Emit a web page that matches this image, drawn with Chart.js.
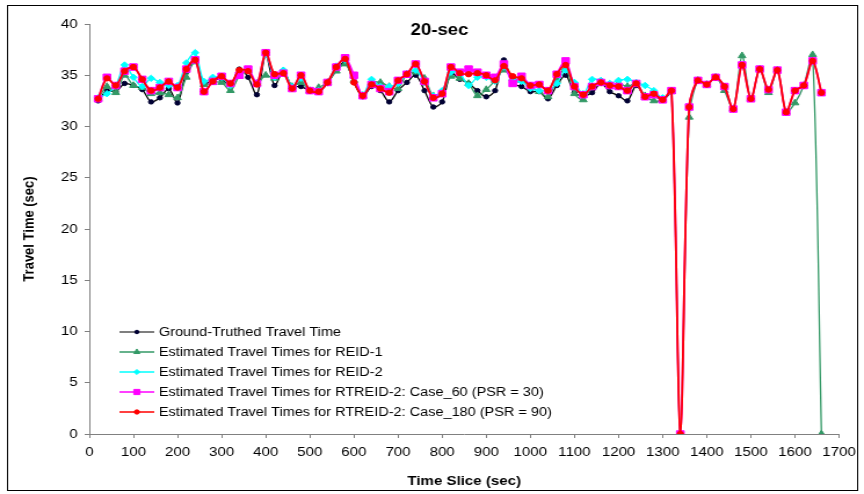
<!DOCTYPE html>
<html>
<head>
<meta charset="utf-8">
<script src="https://cdn.jsdelivr.net/npm/chart.js@4.4.0/dist/chart.umd.min.js"></script>
<style>
  html, body { margin: 0; padding: 0; background: #fff; }
  #wrap { width: 864px; height: 494px; overflow: hidden; position: relative; }
  /* the source picture is stretched sideways, so draw narrow and stretch */
  #chart { position: absolute; left: 0; top: 0; transform: scaleX(1.1597); transform-origin: 0 0; }
</style>
</head>
<body>
<div id="wrap"><canvas id="chart" width="745" height="494"></canvas></div>
<script>
'use strict';

const FONT = '"Liberation Sans", Arial, sans-serif';

const timeSlices = [
  20, 40, 60, 80, 100, 120, 140, 160, 180, 200,
  220, 240, 260, 280, 300, 320, 340, 360, 380, 400,
  420, 440, 460, 480, 500, 520, 540, 560, 580, 600,
  620, 640, 660, 680, 700, 720, 740, 760, 780, 800,
  820, 840, 860, 880, 900, 920, 940, 960, 980, 1000,
  1020, 1040, 1060, 1080, 1100, 1120, 1140, 1160, 1180, 1200,
  1220, 1240, 1260, 1280, 1300, 1320, 1340, 1360, 1380, 1400,
  1420, 1440, 1460, 1480, 1500, 1520, 1540, 1560, 1580, 1600,
  1620, 1640, 1660
];

// ground truth and REID-2 stop at 1320
const groundTruth = [
  32.5, 33.5, 33.4, 34.2, 34.0, 33.6, 32.4, 32.8, 33.7, 32.3,
  35.3, 36.4, 34.2, 34.5, 34.6, 34.0, 35.6, 34.8, 33.1, 37.0,
  34.0, 35.4, 33.9, 33.9, 33.5, 33.4, 34.2, 35.5, 36.3, 34.3,
  32.9, 33.9, 33.5, 32.4, 33.5, 34.3, 35.0, 33.5, 31.9, 32.4,
  35.2, 34.6, 34.2, 33.5, 32.9, 33.5, 36.5, 34.2, 33.9, 33.4,
  33.4, 32.7, 34.0, 35.0, 33.3, 33.0, 33.3, 34.2, 33.4, 33.0,
  32.5, 34.0, 32.9, 33.0, 32.6, 33.4
];

const reid1 = [
  32.7, 33.9, 33.3, 35.0, 34.0, 33.8, 33.2, 33.3, 33.1, 32.8,
  34.8, 36.3, 34.1, 34.3, 34.3, 33.5, 34.9, 35.4, 34.2, 35.0,
  34.7, 35.4, 33.9, 34.3, 33.5, 33.8, 34.3, 35.4, 36.1, 34.5,
  33.0, 34.3, 34.3, 33.9, 33.7, 35.1, 35.3, 34.7, 33.0, 33.2,
  34.9, 34.7, 34.2, 33.0, 33.6, 34.5, 35.5, 34.7, 34.5, 33.9,
  33.4, 32.9, 34.5, 35.7, 33.2, 32.6, 33.9, 34.2, 33.9, 34.2,
  33.9, 34.2, 33.0, 32.5, 32.6, 33.4, 0, 30.9, 34.5, 34.1,
  34.8, 33.5, 31.7, 36.9, 32.7, 35.6, 33.3, 35.5, 31.4, 32.3,
  34.0, 37.0, 0
];

const reid2 = [
  32.8, 33.2, 34.0, 36.0, 34.8, 33.9, 34.7, 34.3, 34.0, 34.0,
  36.2, 37.2, 34.4, 34.8, 34.8, 34.0, 35.2, 35.5, 34.2, 37.0,
  34.8, 35.5, 33.9, 34.7, 33.5, 33.5, 34.3, 35.9, 36.5, 34.8,
  33.1, 34.6, 33.9, 33.9, 34.2, 35.1, 35.5, 34.3, 33.0, 33.5,
  35.3, 35.2, 34.0, 34.8, 34.8, 34.4, 35.8, 34.5, 34.4, 33.7,
  33.5, 33.5, 34.2, 35.5, 34.3, 33.2, 34.6, 34.5, 34.2, 34.5,
  34.6, 34.3, 34.0, 33.5, 32.8, 33.4
];

const case60 = [
  32.7, 34.8, 34.0, 35.4, 35.8, 34.6, 33.5, 33.8, 34.4, 33.8,
  35.6, 36.5, 33.4, 34.4, 34.9, 34.2, 35.0, 35.6, 34.2, 37.2,
  35.0, 35.2, 33.7, 35.0, 33.5, 33.4, 34.3, 35.8, 36.7, 35.0,
  33.0, 34.1, 33.7, 33.4, 34.5, 35.1, 36.1, 34.4, 32.8, 33.2,
  35.8, 35.3, 35.6, 35.3, 35.0, 34.8, 36.1, 34.2, 34.9, 34.0,
  34.1, 33.5, 35.1, 36.4, 33.9, 33.1, 33.9, 34.3, 34.0, 33.9,
  33.5, 34.2, 32.9, 33.1, 32.6, 33.5, 0, 31.9, 34.5, 34.1,
  34.8, 33.9, 31.7, 36.0, 32.7, 35.6, 33.6, 35.5, 31.4, 33.5,
  34.0, 36.4, 33.3
];

const case180 = [
  32.7, 34.7, 34.0, 35.4, 35.8, 34.6, 33.5, 33.8, 34.4, 33.8,
  35.6, 36.5, 33.4, 34.4, 34.9, 34.2, 35.5, 35.4, 34.1, 37.2,
  35.1, 35.2, 33.7, 35.0, 33.5, 33.4, 34.3, 35.8, 36.6, 34.3,
  33.0, 34.1, 33.7, 33.3, 34.5, 35.1, 36.1, 34.4, 32.8, 33.2,
  35.8, 35.2, 35.1, 35.2, 35.0, 34.5, 35.9, 34.9, 34.7, 34.0,
  34.1, 33.5, 35.1, 36.0, 33.9, 33.1, 33.9, 34.3, 34.0, 33.9,
  33.5, 34.2, 32.9, 33.2, 32.6, 33.5, 0, 31.9, 34.5, 34.1,
  34.8, 33.9, 31.7, 36.0, 32.7, 35.6, 33.6, 35.5, 31.4, 33.5,
  34.0, 36.4, 33.3
];

const xTicks = { min: 0, max: 1700, step: 100 };
const yTicks = { min: 0, max: 40, step: 5 };

const points = values => values.map((v, i) => ({ x: timeSlices[i], y: v }));

function serie(label, values, color, style, radius, width, fill, order) {
  return {
    label, data: points(values), order,
    borderColor: color, borderWidth: width,
    pointStyle: style, pointRadius: radius, pointHoverRadius: radius,
    pointBackgroundColor: fill, pointBorderColor: fill, pointBorderWidth: 1,
    tension: 0.3, fill: false
  };
}

// frame, title and the in-plot legend
const decor = {
  id: 'decor',
  beforeDraw(chart) {
    const ctx = chart.ctx;
    ctx.save();
    ctx.fillStyle = '#fff';
    ctx.fillRect(0, 0, chart.width, chart.height);
    ctx.strokeStyle = '#000';
    ctx.lineWidth = 1;
    ctx.strokeRect(6.5, 5.5, 733, 485);
    ctx.restore();
  },
  afterDraw(chart) {
    const ctx = chart.ctx;
    ctx.save();
    ctx.fillStyle = '#000';
    ctx.textAlign = 'center';
    ctx.textBaseline = 'middle';
    ctx.font = 'bold 16px ' + FONT;
    ctx.fillText('20-sec', 379, 31);

    ctx.font = '12.5px ' + FONT;
    ctx.textAlign = 'left';
    chart.data.datasets.forEach((ds, i) => {
      const y = 332 + i * 20;
      ctx.strokeStyle = i === 0 ? '#555' : ds.borderColor;
      ctx.lineWidth = 1.5;
      ctx.beginPath();
      ctx.moveTo(103, y);
      ctx.lineTo(133, y);
      ctx.stroke();
      ctx.fillStyle = ds.pointBackgroundColor;
      ctx.strokeStyle = ds.pointBorderColor;
      ctx.lineWidth = 1;
      if (Chart.helpers && Chart.helpers.drawPoint) {
        Chart.helpers.drawPoint(ctx, { pointStyle: ds.pointStyle, radius: ds.pointRadius * 0.8, rotation: 0, borderWidth: 1 }, 118, y);
      } else {
        ctx.beginPath(); ctx.arc(118, y, 2.5, 0, Math.PI * 2); ctx.fill();
      }
      ctx.fillStyle = '#000';
      ctx.fillText(ds.label, 137, y + 0.5);
    });
    ctx.restore();
  }
};

new Chart(document.getElementById('chart'), {
  type: 'line',
  plugins: [decor],
  data: {
    datasets: [
      serie('Ground-Truthed Travel Time', groundTruth, '#000000', 'circle', 2.2, 1.3, '#000033', 5),
      serie('Estimated Travel Times for REID-1', reid1, '#339966', 'triangle', 3.8, 1.3, '#339966', 4),
      serie('Estimated Travel Times for REID-2', reid2, '#00FFFF', 'rectRot', 3.2, 1.3, '#00FFFF', 3),
      serie('Estimated Travel Times for RTREID-2: Case_60 (PSR = 30)', case60, '#FF00FF', 'rect', 4.6, 1.8, '#FF00FF', 2),
      serie('Estimated Travel Times for RTREID-2: Case_180 (PSR = 90)', case180, '#FF0000', 'circle', 2.7, 1.8, '#FF0000', 1)
    ]
  },
  options: {
    responsive: false,
    animation: false,
    devicePixelRatio: 1,
    layout: { padding: { left: 14, right: 20, top: 24, bottom: 0 } },
    plugins: { legend: { display: false }, tooltip: { enabled: false } },
    scales: {
      x: {
        type: 'linear', min: xTicks.min, max: xTicks.max,
        afterFit: s => { s.height = 60; },
        border: { color: '#808080', width: 1 },
        grid: { drawOnChartArea: false, color: '#808080', tickLength: 4 },
        ticks: { stepSize: xTicks.step, color: '#000', padding: 7, maxRotation: 0, font: { family: FONT, size: 13 }, callback: v => String(v) },
        title: { display: true, text: 'Time Slice (sec)', color: '#000', padding: { top: 4, bottom: 5 }, font: { family: FONT, size: 13, weight: 'bold' } }
      },
      y: {
        min: yTicks.min, max: yTicks.max,
        afterFit: s => { s.width = 63; },
        border: { color: '#808080', width: 1 },
        grid: { drawOnChartArea: false, color: '#808080', tickLength: 4 },
        ticks: { stepSize: yTicks.step, color: '#000', padding: 6, font: { family: FONT, size: 13 } },
        title: { display: true, text: 'Travel Time (sec)', color: '#000', padding: { top: 4, bottom: 0 }, font: { family: FONT, size: 13, weight: 'bold' } }
      }
    }
  }
});
</script>
</body>
</html>
